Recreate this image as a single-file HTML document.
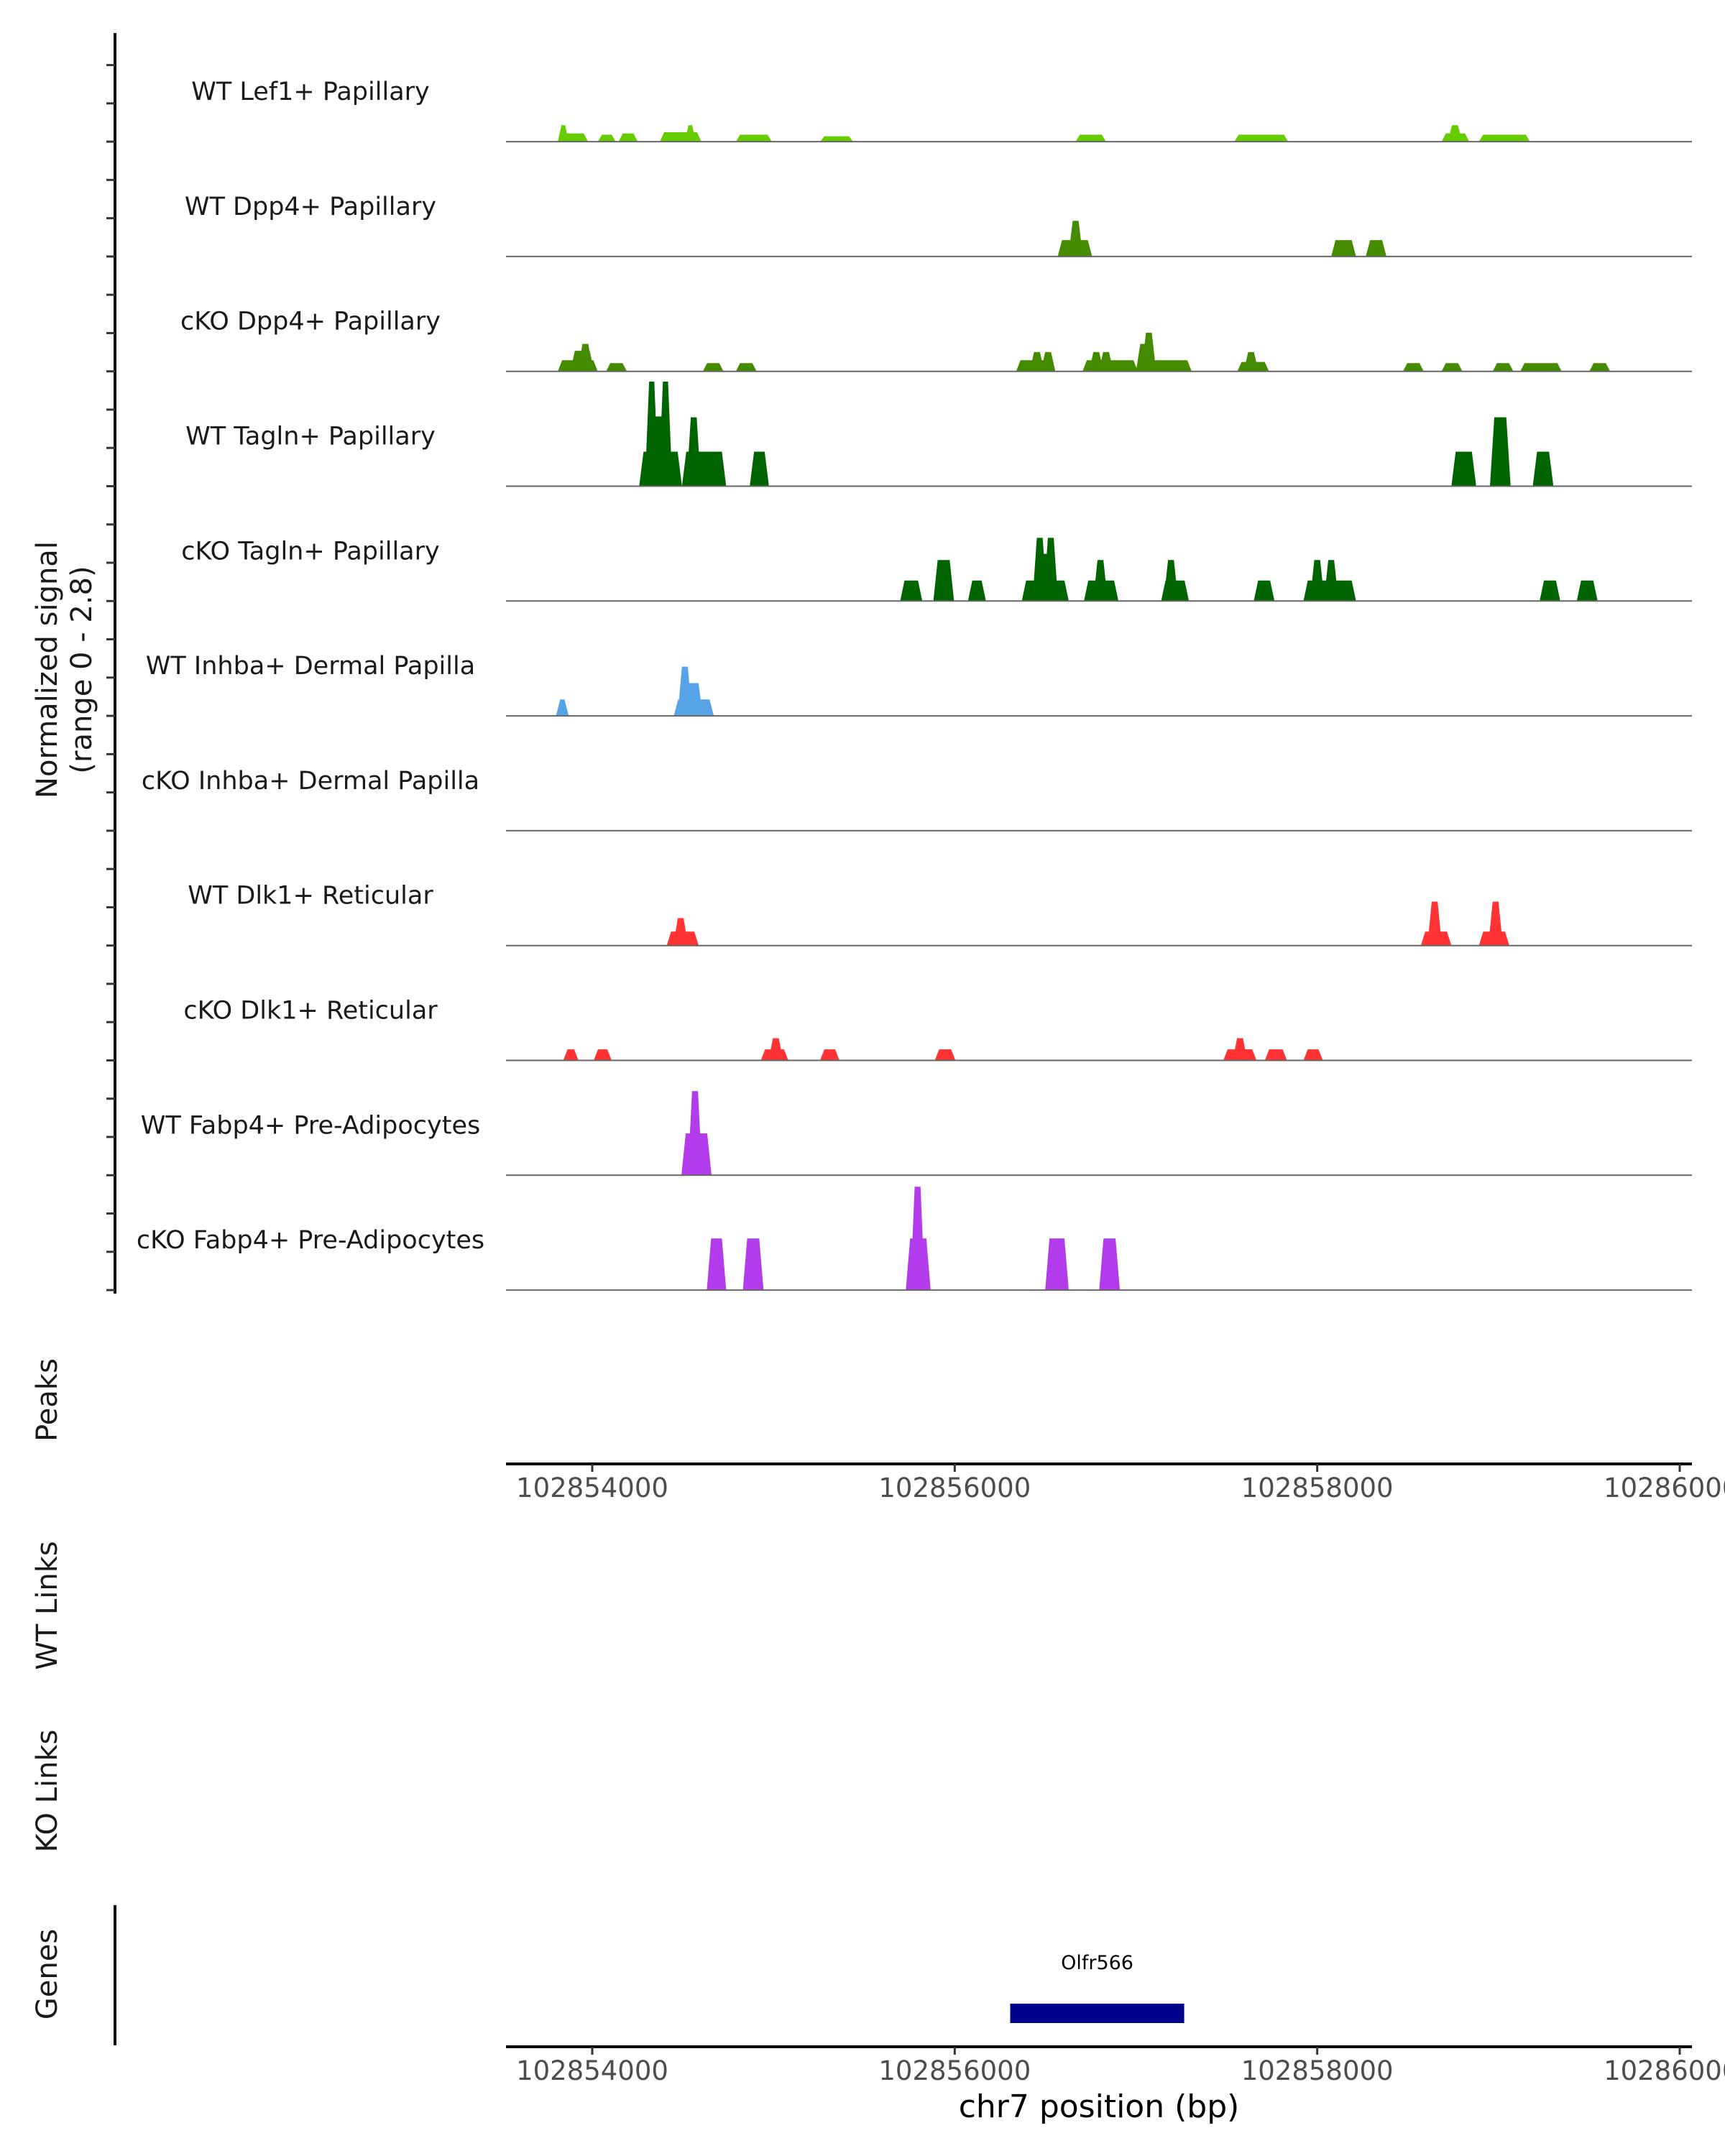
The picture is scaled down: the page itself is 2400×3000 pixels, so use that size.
<!DOCTYPE html>
<html><head><meta charset="utf-8"><style>
html,body{margin:0;padding:0;background:#fff;}
svg{display:block;font-family:"DejaVu Sans","Liberation Sans",sans-serif;}
</style></head><body>
<svg id="chart" width="2400" height="3000" viewBox="0 0 2400 3000" xmlns="http://www.w3.org/2000/svg">
<g id="left-titles">
<text transform="translate(79,932) rotate(-90)" text-anchor="middle" font-size="40" fill="#1a1a1a">Normalized signal</text>
<text transform="translate(127,932) rotate(-90)" text-anchor="middle" font-size="40" fill="#1a1a1a">(range 0 - 2.8)</text>
<text transform="translate(79,1948) rotate(-90)" text-anchor="middle" font-size="40" fill="#1a1a1a">Peaks</text>
<text transform="translate(79,2234) rotate(-90)" text-anchor="middle" font-size="40" fill="#1a1a1a">WT Links</text>
<text transform="translate(79,2492) rotate(-90)" text-anchor="middle" font-size="40" fill="#1a1a1a">KO Links</text>
<text transform="translate(79,2747) rotate(-90)" text-anchor="middle" font-size="40" fill="#1a1a1a">Genes</text>
</g>
<line x1="160" y1="46" x2="160" y2="1800" stroke="#000" stroke-width="4"/>
<line x1="160" y1="2651" x2="160" y2="2846" stroke="#000" stroke-width="4"/>
<g id="yticks"></g>
<g id="tracks"></g>
<g id="axis1"></g>
<g id="axis2"></g>
<g id="genes"></g>
<text x="1529" y="2946" text-anchor="middle" font-size="44" fill="#000">chr7 position (bp)</text>
</svg>
<script>
var OFFSET = 102850000;
var trackNames = ["WT Lef1+ Papillary","WT Dpp4+ Papillary","cKO Dpp4+ Papillary","WT Tagln+ Papillary","cKO Tagln+ Papillary","WT Inhba+ Dermal Papilla","cKO Inhba+ Dermal Papilla","WT Dlk1+ Reticular","cKO Dlk1+ Reticular","WT Fabp4+ Pre-Adipocytes","cKO Fabp4+ Pre-Adipocytes"];
var trackColors = ["#66cc00","#458b00","#458b00","#006400","#006400","#56a3e6","#56a3e6","#ff3333","#ff3333","#b23ceb","#b23ceb"];
var xTicks = [102854000,102856000,102858000,102860000];
var xTickLabels = ["102854000","102856000","102858000","102860000"];
var geneStart = 6306, geneEnd = 7266, geneName = "Olfr566";
var sigLef1 = [[3810,3870,0.4],[3810,3977,0.2],[4030,4130,0.17],[4145,4251,0.2],[4373,4602,0.23],[4511,4571,0.4],[4792,4991,0.17],[5257,5440,0.13],[6667,6835,0.17],[7543,7840,0.17],[8686,8839,0.2],[8720,8800,0.4],[8892,9174,0.17]];
var sigDpp4WT = [[6568,6758,0.4],[6627,6707,0.87],[8077,8214,0.4],[8268,8382,0.4]];
var sigDpp4KO = [[3810,4030,0.27],[3922,4002,0.67],[3880,4010,0.5],[4076,4191,0.2],[4610,4724,0.2],[4792,4907,0.2],[6339,6553,0.27],[6414,6494,0.47],[6475,6555,0.47],[6705,7010,0.27],[6741,6821,0.47],[6795,6875,0.47],[7010,7307,0.27],[7031,7111,0.94],[7000,7080,0.67],[7559,7734,0.23],[7595,7675,0.47],[8473,8588,0.2],[8686,8801,0.2],[8968,9082,0.2],[9120,9349,0.2],[9501,9616,0.2]];
var sigTaglnWT = [[4259,4495,0.84],[4290,4366,2.55],[4366,4442,2.55],[4300,4432,1.7],[4495,4739,0.84],[4520,4600,1.68],[4869,4975,0.84],[8740,8877,0.84],[8953,9067,1.68],[9189,9303,0.84]];
var sigTaglnKO = [[5699,5821,0.5],[5882,5996,1.0],[6073,6172,0.5],[6370,6629,0.5],[6429,6509,1.54],[6490,6570,1.54],[6450,6550,1.15],[6713,6903,0.5],[6764,6844,1.0],[7139,7292,0.5],[7153,7233,1.0],[7650,7764,0.5],[7924,8214,0.5],[7960,8040,1.0],[8037,8117,1.0],[9227,9341,0.5],[9432,9547,0.5]];
var sigInhbaWT = [[3800,3870,0.4],[4450,4671,0.4],[4471,4551,1.2],[4480,4610,0.8]];
var sigInhbaKO = [];
var sigDlk1WT = [[4411,4587,0.34],[4448,4528,0.67],[8572,8740,0.34],[8608,8688,1.07],[8892,9060,0.34],[8944,9024,1.07]];
var sigDlk1KO = [[3840,3924,0.27],[4008,4107,0.27],[4930,5082,0.27],[4973,5053,0.54],[5257,5364,0.27],[5890,6004,0.27],[7482,7665,0.27],[7534,7614,0.54],[7711,7833,0.27],[7924,8031,0.27]];
var sigFabp4WT = [[4492,4658,1.02],[4527,4607,2.05]];
var sigFabp4KO = [[4632,4739,1.26],[4831,4945,1.26],[5730,5867,1.26],[5755,5835,2.52],[6499,6629,1.26],[6797,6911,1.26]];
var signals = [sigLef1,sigDpp4WT,sigDpp4KO,sigTaglnWT,sigTaglnKO,sigInhbaWT,sigInhbaKO,sigDlk1WT,sigDlk1KO,sigFabp4WT,sigFabp4KO];

var NS = "http://www.w3.org/2000/svg";
var X0 = 704, X1 = 2354;
function xScale(bp){ return 824 + (bp - 102854000) * (1513/6000); }
var TOP = 197.1, TH = 159.8, YMAX = 2.8;
function baseY(i){ return TOP + i*TH; }
function yScale(i, v){ return baseY(i) - v/YMAX*TH; }
function mk(tag, attrs, parent){ var e=document.createElementNS(NS,tag); for(var k in attrs) e.setAttribute(k,attrs[k]); parent.appendChild(e); return e; }

var yt = document.getElementById('yticks');
for (var t=-2; t<=30; t++){
  var ty = TOP + t*TH/3;
  var tl = mk('line',{x1:148,x2:160,y1:ty,y2:ty,stroke:'#333',"stroke-width":3},yt);
  
  
}

var tg = document.getElementById('tracks');
for (var i=0;i<trackNames.length;i++){
  var g = mk('g',{},tg);
  
  
  var lab = mk('text',{x:432,y:baseY(i)-58,"text-anchor":"middle","font-size":35,fill:'#1a1a1a'},g);
  lab.textContent = trackNames[i];
  
  
  var sig = signals[i];
  for (var j=0;j<sig.length;j++){
    var s = xScale(sig[j][0]+OFFSET), e = xScale(sig[j][1]+OFFSET);
    var ramp = Math.min(6, (e-s)/3);
    var yb = baseY(i), yv = yScale(i, sig[j][2]);
    var p = mk('polygon',{points:s+','+yb+' '+(s+ramp)+','+yv+' '+(e-ramp)+','+yv+' '+e+','+yb,fill:trackColors[i]},g);
    
    
  }
  var bl = mk('line',{x1:X0,x2:X1,y1:baseY(i),y2:baseY(i),stroke:'#666',"stroke-width":2},g);
  
  
}

function drawAxis(id, y){
  var ag = document.getElementById(id);
  var al = mk('line',{x1:X0,x2:X1,y1:y,y2:y,stroke:'#000',"stroke-width":4},ag);
  
  
  for (var k=0;k<xTicks.length;k++){
    var tx = xScale(xTicks[k]);
    var tk = mk('line',{x1:tx,x2:tx,y1:y,y2:y+11,stroke:'#333',"stroke-width":3},ag);
    
    
    var tt = mk('text',{x:tx,y:y+46,"text-anchor":"middle","font-size":37,fill:'#4d4d4d'},ag);
    tt.textContent = xTickLabels[k];
    
    
  }
}
drawAxis('axis1', 2037);
drawAxis('axis2', 2848);

var gg = document.getElementById('genes');
var gx0 = xScale(geneStart+OFFSET), gx1 = xScale(geneEnd+OFFSET);
var gb = mk('rect',{x:gx0,y:2788,width:gx1-gx0,height:27,fill:'#00008b'},gg);


var gl = mk('text',{x:(gx0+gx1)/2,y:2740,"text-anchor":"middle","font-size":27,fill:'#000'},gg);
gl.textContent = geneName;


</script>
</body></html>
